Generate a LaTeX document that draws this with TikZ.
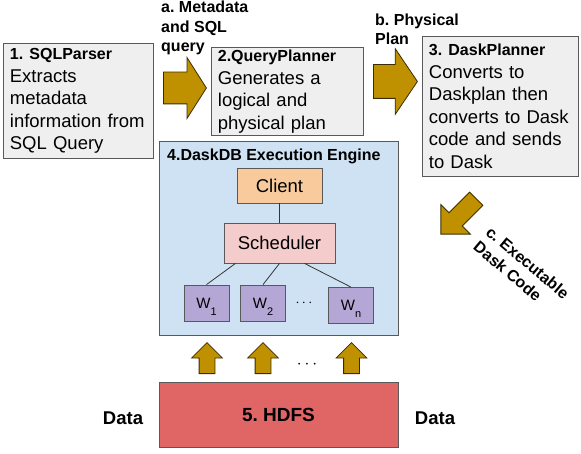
\documentclass[tikz,border=0pt]{standalone}
\usepackage{fontspec}
\setmainfont{Liberation Sans}
\usetikzlibrary{shapes.arrows}
\definecolor{boxgray}{HTML}{EFEFEF}
\definecolor{linegray}{HTML}{595959}
\definecolor{arrowgold}{HTML}{BF9000}
\definecolor{arrowline}{HTML}{3A2E00}
\definecolor{engineblue}{HTML}{CFE2F3}
\definecolor{clientorange}{HTML}{F9CB9C}
\definecolor{schedpink}{HTML}{F4CCCC}
\definecolor{workerpurple}{HTML}{B4A7D6}
\definecolor{hdfsred}{HTML}{E06666}
\frenchspacing
\begin{document}
\begin{tikzpicture}[x=1pt, y=-1pt]
    \tikzstyle{stage}=[draw=linegray, fill=boxgray, line width=0.8pt, anchor=north west, align=left, inner xsep=6.5pt, inner ysep=2pt, font=\fontsize{18.5}{22.5}\selectfont]
    \tikzstyle{comp}=[draw=linegray, line width=0.8pt, inner sep=0pt, font=\fontsize{18.5}{22}\selectfont]
    \tikzstyle{worker}=[comp, fill=workerpurple, minimum width=45pt, minimum height=36pt, text height=11pt, text depth=0pt, font=\fontsize{15}{18}\selectfont]
    \tikzstyle{flow}=[single arrow, draw=arrowline, fill=arrowgold, line width=0.8pt, inner xsep=0pt, anchor=tail, single arrow head indent=0pt]
    \tikzstyle{tag}=[align=left, inner sep=0pt, font=\bfseries\fontsize{16}{19.5}\selectfont]
    \useasboundingbox (0,0) rectangle (581,454);

    % draw planner boxes
    \node [stage, text width=137pt, minimum height=115pt] (parser) at (3,43)
      {{\bfseries\fontsize{16}{22.5}\selectfont 1. SQLParser}\\Extracts\\metadata\\information from\\SQL Query};
    \node [stage, text width=139pt, minimum height=88pt] (qplanner) at (211,47)
      {{\bfseries\fontsize{16}{22.5}\selectfont 2.QueryPlanner}\\Generates a\\logical and\\physical plan};
    \node [stage, text width=143pt, minimum height=140pt] (dplanner) at (422,36)
      {{\bfseries\fontsize{16}{22.5}\selectfont 3. DaskPlanner}\\Converts to\\Daskplan then\\converts to Dask\\code and sends\\to Dask};

    % draw engine
    \node [comp, fill=engineblue, minimum width=239pt, minimum height=194pt] (engine) at (278.5,238) {};
    \node [tag, anchor=base west] (engine-title) at (167,161) {4.DaskDB Execution Engine};
    \node [comp, fill=clientorange, minimum width=85pt, minimum height=35pt] (client) at (279.5,185.5) {Client};
    \node [comp, fill=schedpink, minimum width=111pt, minimum height=40pt] (scheduler) at (279.5,243) {Scheduler};

    \foreach \m/\x/\y in {1/206.5/303, 2/263/303, n/351/305.5}
    \node [worker] (worker-\m) at (\x,\y) {W\raisebox{-7pt}{\fontsize{11}{13}\selectfont\m}};
    \node [font=\fontsize{15}{18}\selectfont] (worker-dots) at (304,303.5) {$\cdots$};

    % draw lines
    \draw [linegray!60!black, line width=0.8pt] (client) -- (scheduler);
    \foreach \m/\s in {1/-44, 2/0, n/25}
    \draw [linegray!60!black, line width=0.8pt] ([xshift=\s pt]scheduler.south) -- (worker-\m.north);

    % draw storage
    \node [comp, fill=hdfsred, minimum width=239pt, minimum height=65pt, font=\bfseries\fontsize{19}{22}\selectfont] (hdfs) at (278.5,414.5) {5. HDFS};
    \node [tag, font=\bfseries\fontsize{18.5}{22}\selectfont] (data-left) at (123,418) {Data};
    \node [tag, font=\bfseries\fontsize{18.5}{22}\selectfont] (data-right) at (435,418) {Data};

    \foreach \x [count=\i] in {207,263,351.5}
    \node [flow, rotate=90, inner ysep=7.5pt, minimum height=31pt, minimum width=30pt, single arrow head extend=7.5pt, single arrow tip angle=90] (feed-\i) at (\x,374) {};
    \node [font=\fontsize{17}{20}\selectfont] (feed-dots) at (307,364.5) {$\cdots$};

    % draw flow arrows
    \node [flow, inner ysep=15.5pt, minimum height=43pt, minimum width=60pt, single arrow head extend=14.5pt, single arrow tip angle=115] (flow-a) at (163,88) {};
    \node [flow, inner ysep=16.5pt, minimum height=44pt, minimum width=65pt, single arrow head extend=16pt, single arrow tip angle=112] (flow-b) at (373,81.5) {};
    \node [flow, rotate=225, inner ysep=9pt, minimum height=50pt, minimum width=41pt, single arrow head extend=11.5pt, single arrow tip angle=90] (flow-c) at (476.5,198.5) {};

    % draw text
    \node [tag, anchor=north west] (label-a) at (161,1.2) {a. Metadata\\and SQL\\query};
    \node [tag, anchor=north west] (label-b) at (375,13.5) {b. Physical\\Plan};
    \node [tag, rotate=-40] (label-c) at (521.5,270) {c. Executable\\Dask Code};

\end{tikzpicture}
\end{document}
